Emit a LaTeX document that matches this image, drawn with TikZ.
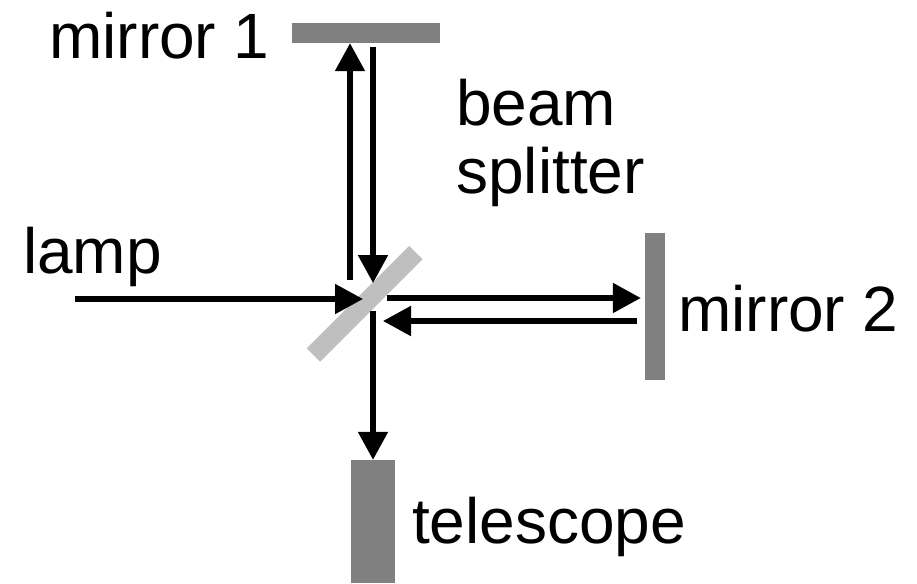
\documentclass[tikz,border=0pt]{standalone}
\usepackage{fontspec}
\setmainfont{Liberation Sans}
\usepackage{xcolor}
\usetikzlibrary{arrows.meta}

\begin{document}
\begin{tikzpicture}[x=1pt, y=-1pt,
        ray/.style={line width=5.3pt, -{Triangle[length=28pt,width=29pt]}},
        plate/.style={fill=gray, draw=none, inner sep=0pt},
        label/.style={anchor=base west, inner sep=0pt, font=\fontsize{64}{68}\selectfont}]
        \useasboundingbox (0,0) rectangle (917,583);

        \node[plate, minimum width=148pt, minimum height=20pt] (m1) at (366,33) {};
        \node[plate, minimum width=20pt, minimum height=147pt] (m2) at (655,306.5) {};
        \node[plate, minimum width=44pt, minimum height=123pt] (tel) at (373,521.5) {};
        \node[plate, fill=gray!50, minimum width=145pt, minimum height=19pt, rotate=45] (bs) at (364.7,303.8) {};

        \node[label] (m1label) at (49,59) {mirror 1};
        \node[label] (lamplabel) at (23,273) {lamp};
        \node[label, align=left] (bslabel) at (456,193) {beam\\splitter};
        \node[label] (m2label) at (678,331) {mirror 2};
        \node[label] (tellabel) at (412,543) {telescope};

        \coordinate (in) at (75,299);
        \coordinate (hit) at (363,299);
        \coordinate (up0) at (350,280);
        \coordinate (dn1) at (373,283);
        \coordinate (r0) at (387,298);
        \coordinate (r1) at (383,321);
        \coordinate (d0) at (373,311);

        \draw[ray] (in) -- (hit); % lamp
        \draw[ray] (up0) -- (up0 |- m1.south);
        \draw[ray] ([yshift=-4pt]m1.south -| dn1) -- (dn1);
        \draw[ray] (r0) -- ([xshift=-4pt]m2.west |- r0);
        \draw[ray] ([xshift=-8pt]m2.west |- r1) -- (r1);
        \draw[ray] (d0) -- (tel.north -| d0); % telescope
    \end{tikzpicture}
\end{document}
